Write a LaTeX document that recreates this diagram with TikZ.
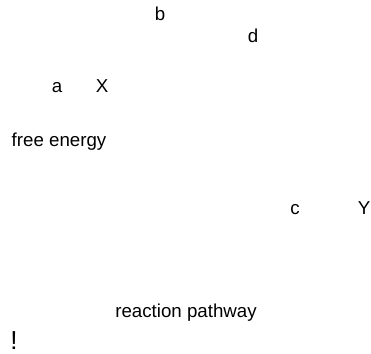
\documentclass[tikz,border=0pt]{standalone}
\usepackage{fontspec}
\setmainfont{Liberation Sans}
\usepackage{tikz}
\usetikzlibrary{positioning}

\begin{document}
\begin{tikzpicture}[
    x=1pt, y=1pt,
    lbl/.style={anchor=base, inner sep=0pt, font=\fontsize{18.7}{20}\selectfont},
    biglbl/.style={lbl, font=\fontsize{26}{28}\selectfont}
]
\useasboundingbox (0,0) rectangle (371,353);
\node[lbl] (b) at (160,332) {b};
\node[lbl] (d) at (253,310) {d};
\node[lbl] (a) at (57,260) {a};
\node[lbl] (X) at (102,260) {X};
\node[lbl] (energy) at (59,206) {free energy};
\node[lbl] (c) at (295,138) {c};
\node[lbl] (Y) at (364,138) {Y};
\node[lbl] (pathway) at (186,36) {reaction pathway};
\node[biglbl] (bang) at (14,4) {!};
\end{tikzpicture}
\end{document}
